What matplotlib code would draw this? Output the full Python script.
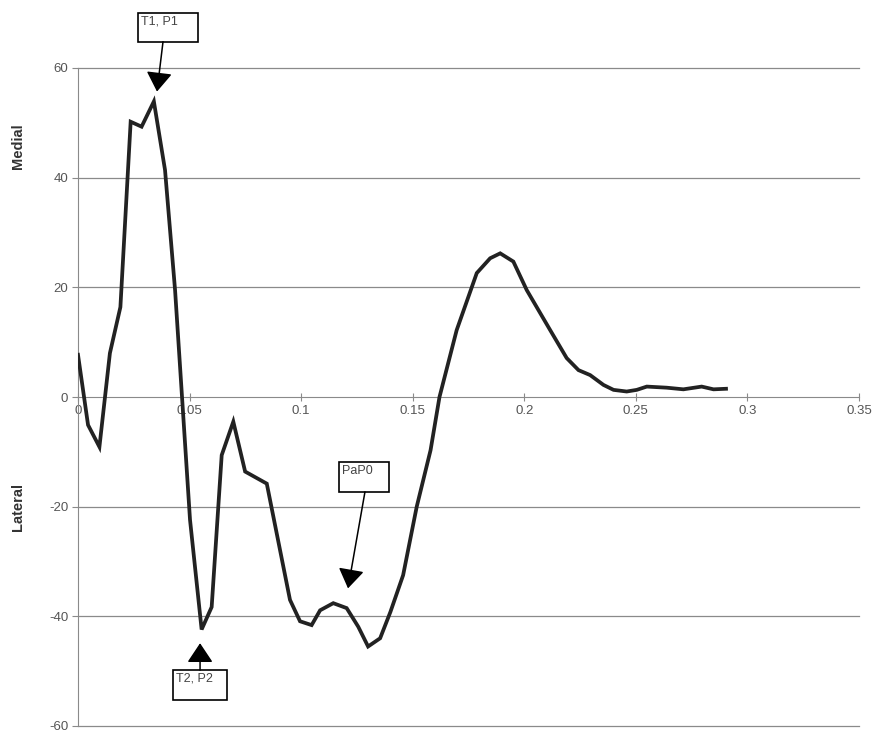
import matplotlib
matplotlib.use('Agg')
import matplotlib.pyplot as plt
from matplotlib.patches import Rectangle

plt.rcParams['font.family'] = ['Liberation Sans', 'DejaVu Sans']
plt.rcParams['axes.unicode_minus'] = False

# time (s) and force
time = [0.0, 0.0045, 0.0096, 0.0143, 0.019, 0.0236, 0.0285, 0.034, 0.039, 0.0435,
        0.0502, 0.0554, 0.0599, 0.0644, 0.0696, 0.0749, 0.0846, 0.095, 0.0995,
        0.1047, 0.1085, 0.1144, 0.1204, 0.1256, 0.130, 0.1354, 0.140, 0.1457,
        0.1518, 0.158, 0.162, 0.1697, 0.1787, 0.1847, 0.1892, 0.1951, 0.2011,
        0.2116, 0.219, 0.2243, 0.2295, 0.2355, 0.240, 0.2459, 0.2504, 0.2549,
        0.2638, 0.2713, 0.2795, 0.2848, 0.2904]
force = [7.7, -5.1, -9.1, 8.0, 16.4, 50.2, 49.3, 53.9, 41.4, 19.5,
         -22.4, -42.4, -38.3, -10.6, -4.5, -13.6, -15.8, -37.0, -40.9,
         -41.6, -38.9, -37.6, -38.5, -41.9, -45.5, -44.0, -39.2, -32.5,
         -20.0, -9.7, 0.0, 12.2, 22.6, 25.3, 26.2, 24.7, 19.5,
         12.2, 7.1, 4.9, 4.0, 2.2, 1.3, 1.0, 1.3, 1.9,
         1.7, 1.4, 1.9, 1.4, 1.5]

x_ticks = [0, 0.05, 0.1, 0.15, 0.2, 0.25, 0.3, 0.35]
x_labels = ['0', '0.05', '0.1', '0.15', '0.2', '0.25', '0.3', '0.35']
y_ticks = [-60, -40, -20, 0, 20, 40, 60]

# label, box (x0, y0, x1, y1), arrow tail, arrow tip
notes = [
    ('T1, P1', (0.0269, 64.8, 0.0538, 70.1), (0.0381, 64.8), (0.0354, 55.7)),
    ('T2, P2', (0.0426, -55.3, 0.0668, -49.8), (0.0547, -49.8), (0.0547, -44.9)),
    ('PaP0', (0.117, -17.3, 0.1394, -11.9), (0.1286, -17.3), (0.121, -34.9)),
]

fig = plt.figure(figsize=(8.73, 7.32), dpi=100)
ax = fig.add_axes([78 / 873, 6 / 732, 781 / 873, 658 / 732])

ax.plot(time, force, color='#222222', lw=2.7, solid_joinstyle='miter', zorder=3)

ax.set_xlim(0, 0.35)
ax.set_ylim(-60, 60)
ax.set_xticks(x_ticks)
ax.set_xticklabels(x_labels)
ax.set_yticks(y_ticks)

for y in y_ticks:
    if y != 0:
        ax.axhline(y, color='#8a8a8a', lw=0.9, zorder=1, clip_on=False)

for side in ['top', 'right']:
    ax.spines[side].set_visible(False)
ax.spines['bottom'].set_position(('data', 0))
ax.spines['bottom'].set_color('#8a8a8a')
ax.spines['left'].set_color('#8a8a8a')
ax.tick_params(axis='x', direction='inout', length=6, color='#8a8a8a',
               labelsize=9.5, labelcolor='#555555', pad=3)
ax.tick_params(axis='y', direction='out', length=4, color='#8a8a8a',
               labelsize=9.5, labelcolor='#555555', pad=3)

fig.text(18 / 873, 1 - 146 / 732, 'Medial', rotation=90, ha='center', va='center',
         fontsize=10.5, fontweight='bold', color='#333333')
fig.text(18 / 873, 1 - 507 / 732, 'Lateral', rotation=90, ha='center', va='center',
         fontsize=10.5, fontweight='bold', color='#333333')

for label, (x0, y0, x1, y1), tail, tip in notes:
    ax.add_patch(Rectangle((x0, y0), x1 - x0, y1 - y0, fill=True, facecolor='white',
                           edgecolor='black', lw=1.2, clip_on=False, zorder=4))
    ax.text(x0 + 0.0012, y1 - 0.5, label, ha='left', va='top', fontsize=9,
            color='#444444', zorder=5)
    ax.annotate('', xy=tip, xytext=tail, annotation_clip=False,
                arrowprops=dict(arrowstyle='-|>,head_length=0.6,head_width=0.4',
                                mutation_scale=20, color='black', lw=1.1,
                                shrinkA=0, shrinkB=0), zorder=4)

fig.savefig('out.png', dpi=100)
